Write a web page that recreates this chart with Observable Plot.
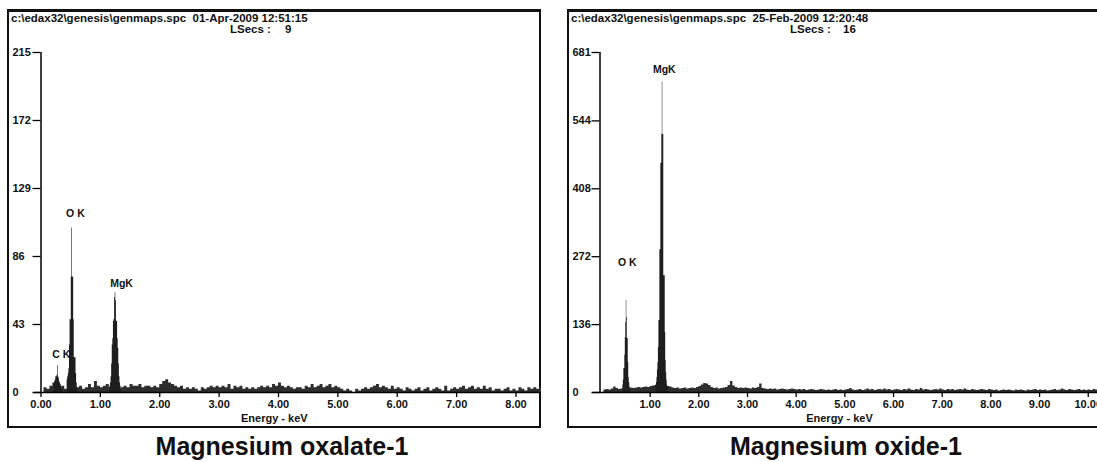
<!DOCTYPE html>
<html><head><meta charset="utf-8">
<script src="https://cdn.jsdelivr.net/npm/d3@7"></script>
<script src="https://cdn.jsdelivr.net/npm/@observablehq/plot@0.6"></script>
<style>
html,body{margin:0;padding:0;background:#fff}
body{width:1097px;height:462px;overflow:hidden;position:relative;font-family:"Liberation Sans",Arial,sans-serif;color:#111}
.panel{position:absolute;top:0;height:462px}
.frame{position:absolute;left:7px;top:9px;height:419px;border:2px solid #111;border-top-width:3px;box-sizing:border-box}
.hdr{position:absolute;font-weight:bold;font-size:11.5px;white-space:pre;line-height:12px}
.cap{position:absolute;font-weight:bold;font-size:25px;white-space:nowrap;transform:translateX(-50%);line-height:26px;top:433px}
.plotbox{position:absolute;left:0;top:0}
.plotbox svg{max-width:none;overflow:visible}
</style></head><body>
<div id="p1" class="panel" style="left:0;width:550px"></div>
<div id="p2" class="panel" style="left:560px;width:537px"></div>
<script>
// ---------- data ----------
const binWidth = 0.05;      // keV per background channel group
const peakBinWidth = 0.01;  // keV per peak channel

// Magnesium oxalate-1
const oxalateHeader = "c:\\edax32\\genesis\\genmaps.spc  01-Apr-2009 12:51:15";
const oxalateLSecs = "9";
const oxalateCaption = "Magnesium oxalate-1";
const oxalateXTicks = [0, 1, 2, 3, 4, 5, 6, 7, 8];
const oxalateYTicks = [0, 43, 86, 129, 172, 215];
const oxalateBgStart = 0.05;
const oxalateBgCounts = [
  3,2,4,6,2,2,4,2,3,2,2,3,4,2,3,5,3,7,4,3,
  4,5,3,2,2,2,3,4,3,5,4,4,5,3,4,4,3,4,3,5,
  7,8,6,5,4,3,4,2,3,2,3,2,1,3,2,3,4,3,4,3,
  4,3,5,2,4,3,4,2,3,2,3,2,3,4,3,4,3,5,4,6,
  4,3,4,3,2,3,3,2,4,3,5,3,4,5,3,4,5,3,4,3,
  2,1,2,1,0,2,1,2,3,2,3,4,5,3,4,3,2,4,2,3,
  2,1,3,2,1,2,3,1,2,3,1,2,3,2,1,4,1,2,3,2,
  3,4,2,3,4,2,3,2,4,2,3,1,2,2,1,2,3,1,2,1,
  3,2,1,3,2,3,2,3
];
const oxalatePeakStarts = [0.22, 0.44, 1.16];
const oxalateCK = [5,7,8,10,10,11,17,10,9,7,6,5,4,3];
const oxalateOK = [8,10,12,15,30,46,46,73,104,73,73,46,22,22,22,12,6,3];
const oxalateMgK = [4,6,10,18,30,34,45,46,60,63,58,45,45,34,28,18,10,6,4];
const oxalateLabels = ["C K", "O K", "MgK"];
const oxalateLabelE = [0.34, 0.58, 1.356];
const oxalateLabelCounts = [24, 113, 69];

// Magnesium oxide-1
const oxideHeader = "c:\\edax32\\genesis\\genmaps.spc  25-Feb-2009 12:20:48";
const oxideLSecs = "16";
const oxideCaption = "Magnesium oxide-1";
const oxideXTicks = [1, 2, 3, 4, 5, 6, 7, 8, 9, 10];
const oxideYTicks = [0, 136, 272, 408, 544, 681];
const oxideBgStart = 0.05;
const oxideBgCounts = [
  5,6,5,7,11,8,6,7,8,8,8,9,8,9,10,9,10,11,10,12,
  13,14,10,10,10,10,12,11,9,8,9,7,8,9,7,8,9,8,10,12,
  15,18,17,14,10,8,9,7,8,9,10,14,22,13,10,8,9,8,9,8,
  7,9,8,10,17,8,7,6,7,6,7,5,6,7,6,5,6,7,6,5,
  6,5,6,4,5,6,5,4,5,6,5,4,5,4,5,6,4,5,4,5,
  6,8,5,4,5,6,4,5,7,5,6,4,5,6,5,7,5,6,4,5,
  6,5,4,6,5,7,5,4,6,5,8,5,6,5,4,5,6,5,7,5,
  4,6,5,6,4,5,6,5,7,5,4,6,5,4,5,6,5,4,6,5,
  4,5,3,4,5,4,5,4,3,5,4,5,4,3,5,4,5,6,4,5,
  4,5,3,4,5,6,4,5,7,5,4,6,5,4,5,6,4,5,4,5,
  4,6,5,4,5
];
const oxidePeakStarts = [0.44, 1.12];
const oxideOK = [15,25,48,48,75,110,140,185,150,108,108,60,30,20,12,8];
const oxideMgK = [15,20,30,45,60,90,144,144,286,286,459,459,517,622,517,517,234,234,234,120,64,40,25,15,10];
const oxideLabels = ["O K", "MgK"];
const oxideLabelE = [0.53, 1.29];
const oxideLabelCounts = [261, 647];

// ---------- drawing ----------
// step outline of a run of channels: one point per channel start, plus the end of the last channel
function stepPoints(start, width, counts, series) {
  const pts = counts.map((c, i) => ({x: start + i * width, y: c, series}));
  pts.push({x: start + counts.length * width, y: counts[counts.length - 1], series});
  return pts;
}

function buildPanel(el, cfg) {
  const frame = document.createElement("div");
  frame.className = "frame";
  frame.style.width = cfg.frameWidth + "px";
  el.appendChild(frame);

  const bg = stepPoints(cfg.bgStart, binWidth, cfg.bgCounts, "bg");
  const peaks = cfg.peakStarts.flatMap((s, k) => stepPoints(s, peakBinWidth, cfg.peakCounts[k], "p" + k));
  const labels = cfg.labels.map((t, i) => ({t, x: cfg.labelE[i], y: cfg.labelCounts[i]}));
  const energy = [{t: "Energy - keV", x: cfg.energyE, y: 0}];
  const font = {fontSize: 11, fontWeight: "bold"};

  const chart = Plot.plot({
    width: cfg.width, height: 430,
    marginLeft: cfg.marginLeft, marginRight: cfg.marginRight, marginTop: 52, marginBottom: 38,
    style: {fontFamily: "'Liberation Sans', Arial, sans-serif", color: "#111", background: "transparent", overflow: "visible"},
    x: {domain: cfg.xDomain},
    y: {domain: [0, cfg.yMax]},
    marks: [
      Plot.areaY(bg, {x: "x", y: "y", z: "series", curve: "step-after", fill: "#2e2e2e", clip: true}),
      Plot.areaY(peaks, {x: "x", y: "y", z: "series", curve: "step-after", fill: "#1e1e1e", clip: true}),
      Plot.ruleY([0], {stroke: "#000", strokeWidth: 1.6, insetLeft: -7}),
      Plot.ruleX([cfg.xDomain[0]], {y1: 0, y2: cfg.yMax, stroke: "#000", strokeWidth: 1.5}),
      Plot.axisX(cfg.xTicks, {tickSize: 5, tickPadding: 3, tickFormat: d => d.toFixed(2), ...font, stroke: "#000", strokeWidth: 1.3, label: null}),
      Plot.axisY(cfg.yTicks, {tickSize: 8, tickFormat: () => "", stroke: "#000", strokeWidth: 1.3, label: null}),
      Plot.axisY(cfg.yTicks, {tickSize: 0, tickPadding: 0, textAnchor: "start", dx: 12 - cfg.marginLeft, ...font, label: null}),
      Plot.text(labels, {x: "x", y: "y", text: "t", fontSize: 10.5, fontWeight: "bold", fill: "#111"}),
      Plot.text(energy, {x: "x", y: "y", text: "t", dy: 26, ...font, fill: "#111"})
    ]
  });
  const box = document.createElement("div");
  box.className = "plotbox";
  box.appendChild(chart);
  el.appendChild(box);

  const hdr = document.createElement("div");
  hdr.className = "hdr"; hdr.style.left = "11px"; hdr.style.top = "12px";
  hdr.textContent = cfg.header;
  el.appendChild(hdr);
  const ls = document.createElement("div");
  ls.className = "hdr"; ls.style.left = "230px"; ls.style.top = "23px";
  ls.textContent = "LSecs :";
  el.appendChild(ls);
  const lsv = document.createElement("div");
  lsv.className = "hdr"; lsv.style.left = cfg.lsecsLeft + "px"; lsv.style.top = "23px";
  lsv.textContent = cfg.lsecs;
  el.appendChild(lsv);
  const cap = document.createElement("div");
  cap.className = "cap"; cap.style.left = cfg.captionCenter + "px";
  cap.textContent = cfg.caption;
  el.appendChild(cap);
}

buildPanel(document.getElementById("p1"), {
  width: 550, marginLeft: 40.5, marginRight: 9, frameWidth: 534,
  xDomain: [0, 8.43], yMax: 215, xTicks: oxalateXTicks, yTicks: oxalateYTicks,
  bgStart: oxalateBgStart, bgCounts: oxalateBgCounts,
  peakStarts: oxalatePeakStarts, peakCounts: [oxalateCK, oxalateOK, oxalateMgK],
  labels: oxalateLabels, labelE: oxalateLabelE, labelCounts: oxalateLabelCounts,
  energyE: 3.93, header: oxalateHeader, lsecs: oxalateLSecs, lsecsLeft: 285,
  caption: oxalateCaption, captionCenter: 282
});
buildPanel(document.getElementById("p2"), {
  width: 537, marginLeft: 39.5, marginRight: 0, frameWidth: 560,
  xDomain: [-0.03, 10.19], yMax: 681, xTicks: oxideXTicks, yTicks: oxideYTicks,
  bgStart: oxideBgStart, bgCounts: oxideBgCounts,
  peakStarts: oxidePeakStarts, peakCounts: [oxideOK, oxideMgK],
  labels: oxideLabels, labelE: oxideLabelE, labelCounts: oxideLabelCounts,
  energyE: 4.89, header: oxideHeader, lsecs: oxideLSecs, lsecsLeft: 283,
  caption: oxideCaption, captionCenter: 286
});
</script>
</body></html>
